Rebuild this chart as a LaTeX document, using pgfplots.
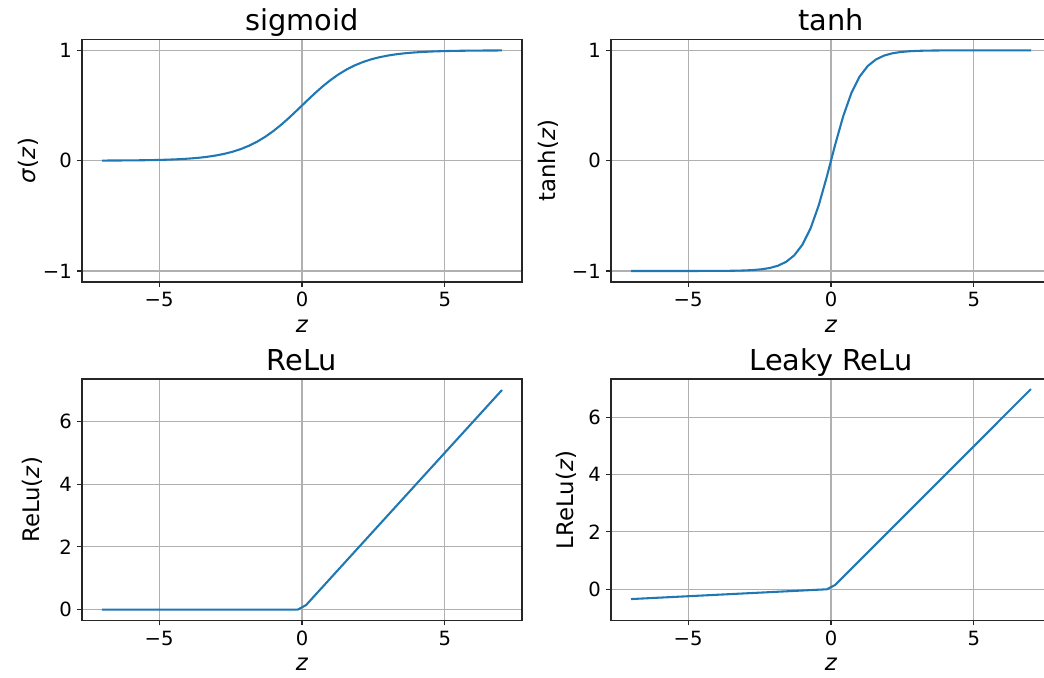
\documentclass[border=0pt]{standalone}
\usepackage{fontspec}
\setmainfont{DejaVu Sans}
\usepackage{pgfplots}
\usepackage{pgfplotstable}
\pgfplotsset{compat=1.18}

\definecolor{mplblue}{HTML}{1F77B4}
\definecolor{mplgrid}{HTML}{B0B0B0}

% z, sigmoid(z), tanh(z) sampled on 50 points in [-7,7]
\pgfplotstableread{
z sig th
-7.0000 0.00091 -1.00000
-6.7143 0.00121 -1.00000
-6.4286 0.00161 -0.99999
-6.1429 0.00214 -0.99999
-5.8571 0.00285 -0.99998
-5.5714 0.00379 -0.99997
-5.2857 0.00504 -0.99995
-5.0000 0.00669 -0.99991
-4.7143 0.00889 -0.99984
-4.4286 0.01179 -0.99972
-4.1429 0.01563 -0.99950
-3.8571 0.02069 -0.99911
-3.5714 0.02735 -0.99842
-3.2857 0.03606 -0.99720
-3.0000 0.04743 -0.99505
-2.7143 0.06215 -0.99126
-2.4286 0.08102 -0.98457
-2.1429 0.10500 -0.97285
-1.8571 0.13502 -0.95243
-1.5714 0.17200 -0.91725
-1.2857 0.21659 -0.85799
-1.0000 0.26894 -0.76159
-0.7143 0.32865 -0.61335
-0.4286 0.39446 -0.40412
-0.1429 0.46434 -0.14193
0.1429 0.53566 0.14193
0.4286 0.60554 0.40412
0.7143 0.67135 0.61335
1.0000 0.73106 0.76159
1.2857 0.78341 0.85799
1.5714 0.82800 0.91725
1.8571 0.86498 0.95243
2.1429 0.89500 0.97285
2.4286 0.91898 0.98457
2.7143 0.93785 0.99126
3.0000 0.95257 0.99505
3.2857 0.96394 0.99720
3.5714 0.97265 0.99842
3.8571 0.97931 0.99911
4.1429 0.98437 0.99950
4.4286 0.98821 0.99972
4.7143 0.99111 0.99984
5.0000 0.99331 0.99991
5.2857 0.99496 0.99995
5.5714 0.99621 0.99997
5.8571 0.99715 0.99998
6.1429 0.99786 0.99999
6.4286 0.99839 0.99999
6.7143 0.99879 1.00000
7.0000 0.99909 1.00000
}\acts

% z, ReLu(z), leaky ReLu(z)
\pgfplotstableread{
z relu lrelu
-7.0000 0 -0.35000
-0.1429 0 -0.00714
0.1429 0.1429 0.14290
7.0000 7.0000 7.00000
}\rect

\pgfplotsset{act/.style={
  scale only axis, width=220pt, anchor=south west,
  xmin=-7.7, xmax=7.7, xtick={-5,0,5}, xticklabels={−5,0,5},
  grid=major, major grid style={mplgrid, line width=0.55pt},
  axis line style={black!85, line width=0.55pt},
  tick style={black!85, line width=0.55pt},
  major tick length=2.45pt, tick align=outside,
  xtick pos=bottom, ytick pos=left,
  ticklabel style={font=\fontsize{9.8}{11}\selectfont, inner sep=0pt},
  xticklabel style={anchor=north, yshift=-2.45pt},
  yticklabel style={anchor=east, xshift=-2.45pt},
  label style={font=\fontsize{11.4}{13}\selectfont, inner sep=0pt},
  xlabel={\textit{z}},
  xlabel style={at={(axis description cs:0.5,0)}, anchor=base, yshift=-25pt},
  every axis title/.style={at={(axis description cs:0.5,1)}, anchor=base,
    yshift=4.17pt, inner sep=0pt, font=\fontsize{14.4}{16}\selectfont},
}}

\begin{document}
\begin{tikzpicture}
\path[use as bounding box] (0,0) rectangle (522pt,-338.5pt);

\begin{axis}[act, at={(41pt,-141pt)}, height=121.35pt,
  title={sigmoid}, ylabel={\textit{σ}(\textit{z})},
  ylabel style={at={(axis description cs:-0.098,0.5)}, anchor=south},
  ymin=-1.1, ymax=1.1, ytick={-1,0,1}, yticklabels={−1,0,1}]
\addplot[mplblue, line width=1.04pt, line join=round] table[x=z, y=sig] {\acts};
\end{axis}

\begin{axis}[act, at={(305.5pt,-141pt)}, height=121.35pt,
  title={tanh}, ylabel={tanh(\textit{z})},
  ylabel style={at={(axis description cs:-0.1175,0.5)}, anchor=south},
  ymin=-1.1, ymax=1.1, ytick={-1,0,1}, yticklabels={−1,0,1}]
\addplot[mplblue, line width=1.04pt, line join=round] table[x=z, y=th] {\acts};
\end{axis}

\begin{axis}[act, at={(41pt,-310.25pt)}, height=120.75pt,
  title={ReLu}, ylabel={ReLu(\textit{z})},
  ylabel style={at={(axis description cs:-0.0893,0.5)}, anchor=south},
  ymin=-0.35, ymax=7.35, ytick={0,2,4,6}, yticklabels={0,2,4,6}]
\addplot[mplblue, line width=1.04pt, line join=round] table[x=z, y=relu] {\rect};
\end{axis}

\begin{axis}[act, at={(305.5pt,-310.25pt)}, height=120.75pt,
  title={Leaky ReLu}, ylabel={LReLu(\textit{z})},
  ylabel style={at={(axis description cs:-0.078,0.5)}, anchor=south},
  ymin=-1.1, ymax=7.35, ytick={0,2,4,6}, yticklabels={0,2,4,6}]
\addplot[mplblue, line width=1.04pt, line join=round] table[x=z, y=lrelu] {\rect};
\end{axis}
\end{tikzpicture}
\end{document}
